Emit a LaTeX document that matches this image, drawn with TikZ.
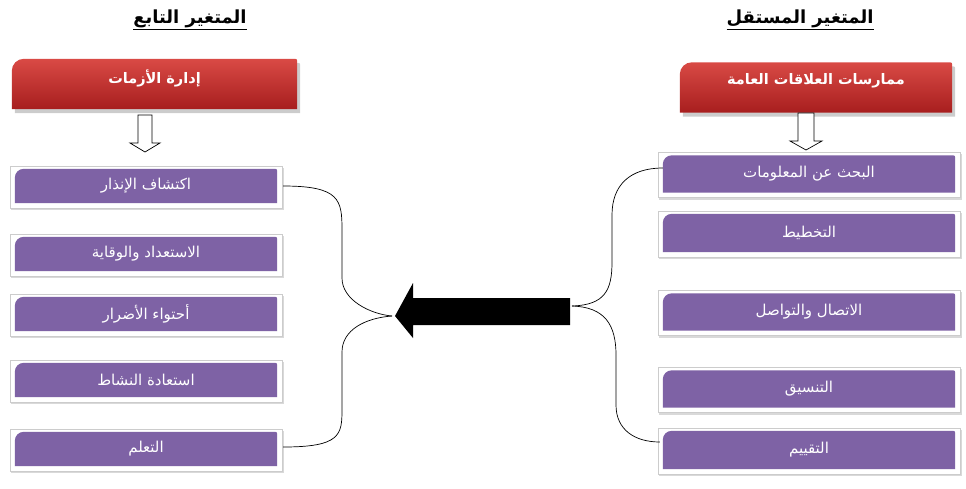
\documentclass[tikz,border=0pt]{standalone}
\usepackage{fontspec}
\newfontfamily\arabicfont[Script=Arabic]{DejaVu Sans}
\TeXXeTstate=1
\usetikzlibrary{calc,shadows,backgrounds}
\definecolor{boxpurple}{HTML}{7E62A5}
\definecolor{redtop}{HTML}{D94A45}
\definecolor{redbot}{HTML}{A71E1E}
\tikzset{
  pbox/.style={minimum width=262pt, minimum height=34pt, inner sep=0pt,
     text=white, font=\arabicfont\fontsize{15}{17}\selectfont},
  rbox/.style={minimum height=50pt, inner sep=0pt},
  rtext/.style={inner sep=0pt, text=white,
     font=\arabicfont\bfseries\fontsize{14.5}{17}\selectfont},
  ttl/.style={font=\arabicfont\bfseries\fontsize{18}{20}\selectfont, inner sep=1pt},
  frame/.style={fill=white, draw=gray!40, line width=0.6pt,
     drop shadow={shadow xshift=1.5pt, shadow yshift=-2pt, opacity=0.3}},
  conn/.style={draw=black, line width=0.7pt},
  hollow/.style={draw=black, fill=white, line width=0.7pt}
}
\newcommand{\ar}[1]{\beginR #1\endR}
\begin{document}
\begin{tikzpicture}[x=1pt,y=-1pt]
\useasboundingbox (0,0) rectangle (966,488);
% titles
\node[ttl] (tl) at (190,20) {\underline{\ar{المتغير التابع}}};
\node[ttl] (tr) at (800,20) {\underline{\ar{المتغير المستقل}}};
% red boxes
\node[rbox, minimum width=285pt] (rl) at (154.5,84) {};
\node[rbox, minimum width=272pt] (rr) at (816,87.5) {};
\node[rtext] (rlt) at (154.5,78) {\ar{إدارة الأزمات}};
\node[rtext] (rrt) at (816,81) {\ar{ممارسات العلاقات العامة}};
% left purple boxes
\node[pbox] (l1) at (146,186) {\ar{اكتشاف الإنذار}};
\node[pbox] (l2) at (146,254) {\ar{الاستعداد والوقاية}};
\node[pbox] (l3) at (146,314) {\ar{أحتواء الأضرار}};
\node[pbox] (l4) at (146,380) {\ar{استعادة النشاط}};
\node[pbox] (l5) at (146,449) {\ar{التعلم}};
% right purple boxes
\node[pbox, minimum width=292pt, minimum height=37pt] (r1) at (809,174) {\ar{البحث عن المعلومات}};
\node[pbox, minimum width=292pt, minimum height=38pt] (r2) at (809,233) {\ar{التخطيط}};
\node[pbox, minimum width=292pt, minimum height=37pt] (r3) at (809,312) {\ar{الاتصال والتواصل}};
\node[pbox, minimum width=292pt, minimum height=37pt] (r4) at (809,389) {\ar{التنسيق}};
\node[pbox, minimum width=292pt, minimum height=38pt] (r5) at (809,450) {\ar{التقييم}};
\begin{pgfonlayer}{background}
\foreach \n in {l1,l2,l3,l4,l5,r1,r2,r3,r4,r5}{
  \path[frame] ($(\n.north west)+(-5,-3)$) rectangle ($(\n.south east)+(5,5)$);
  \fill[boxpurple] (\n.south west) [rounded corners=9pt] -- (\n.north west)
     [rounded corners=2pt] -- (\n.north east) [sharp corners] -- (\n.south east) -- cycle;
}
\foreach \n in {rl,rr}{
  \shade[top color=redtop, bottom color=redbot,
     drop shadow={shadow xshift=3pt, shadow yshift=-4pt, opacity=0.4}]
     (\n.south west) [rounded corners=12pt] -- (\n.north west)
     [rounded corners=2pt] -- (\n.north east) [sharp corners] -- (\n.south east) -- cycle;
}
\end{pgfonlayer}
% hollow arrows
\coordinate (al) at (145,115);
\draw[hollow] ($(al)+(-7,0)$) -- ($(al)+(7,0)$) -- ($(al)+(7,28)$) -- ($(al)+(15,28)$)
   -- ($(al)+(0,37)$) -- ($(al)+(-15,28)$) -- ($(al)+(-7,28)$) -- cycle;
\coordinate (arr) at (806,113);
\draw[hollow] ($(arr)+(-8,0)$) -- ($(arr)+(8,0)$) -- ($(arr)+(8,28)$) -- ($(arr)+(16,28)$)
   -- ($(arr)+(0,37)$) -- ($(arr)+(-16,28)$) -- ($(arr)+(-8,28)$) -- cycle;
% big arrow
\coordinate (tip) at (395,316);
\coordinate (tail) at (570,311);
\fill[black] (tail) ++(0,-13) -- (413,298) -- (413,283) -- (tip) -- (413,338) -- (413,325) -- (570,325) -- cycle;
% connectors
\coordinate (lj) at (392,316);
\coordinate (rj) at (572,306);
\path[conn] ($(l1.east)+(6,0)$) .. controls (340,186) and (342,200) .. (342,230)
   -- (342,278) .. controls (342,300) and (370,314) .. (lj);
\path[conn] ($(l5.east)+(6,-2)$) .. controls (340,447) and (342,435) .. (342,410)
   -- (342,352) .. controls (342,330) and (365,318) .. (lj);
\path[conn] (rj) .. controls (605,305) and (612,290) .. (612,262)
   -- (612,215) .. controls (612,185) and (630,168) .. ($(r1.west)+(0,-6)$);
\path[conn] (rj) .. controls (605,307) and (616,325) .. (616,355)
   -- (616,405) .. controls (616,430) and (635,442) .. ($(r5.west)+(-3,-8)$);
\end{tikzpicture}
\end{document}
